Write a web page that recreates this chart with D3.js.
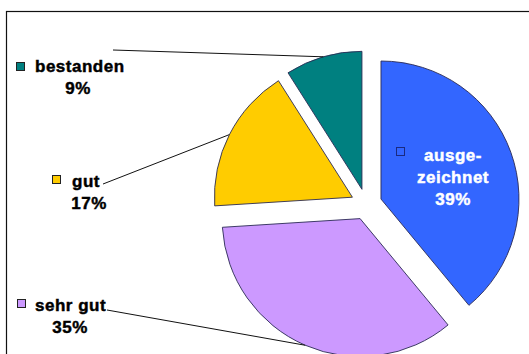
<!DOCTYPE html>
<html>
<head>
<meta charset="utf-8">
<script src="https://cdn.jsdelivr.net/npm/d3@7"></script>
<style>
  html, body { margin: 0; padding: 0; background: #fff; }
  svg { display: block; }
  text { font-family: "Liberation Sans", Arial, sans-serif; font-weight: bold; }
</style>
</head>
<body>
<svg id="chart" width="529" height="354"></svg>
<script>
// Grade distribution, clockwise from 12 o'clock
const categories = ["ausgezeichnet", "sehr gut", "gut", "bestanden"];
const labelLines = [["ausge-", "zeichnet"], ["sehr gut"], ["gut"], ["bestanden"]];
const values = [39, 35, 17, 9];
const colors = ["#3366FF", "#CC99FF", "#FFCC00", "#008080"];

const W = 529, H = 354;
const svg = d3.select("#chart");

// chart frame (runs past the right and bottom edges)
svg.append("rect")
  .attr("x", 6.5).attr("y", 11.5)
  .attr("width", 600).attr("height", 400)
  .attr("fill", "#fff").attr("stroke", "#111").attr("stroke-width", 1.2);

const cx = 366.3, cy = 204.3, radius = 138, explode = 15.6;

const pie = d3.pie().sort(null).value(d => d).startAngle(0).endAngle(2 * Math.PI);
const arcs = pie(values);
const arc = d3.arc().innerRadius(0).outerRadius(radius);

// direction of each slice's bisector (0 = up, clockwise)
const dir = a => {
  const m = (a.startAngle + a.endAngle) / 2;
  return [Math.sin(m), -Math.cos(m)];
};

const g = svg.append("g").attr("transform", `translate(${cx},${cy})`);

g.selectAll("path.slice")
  .data(arcs)
  .join("path")
  .attr("class", "slice")
  .attr("transform", d => { const [dx, dy] = dir(d); return `translate(${dx * explode},${dy * explode})`; })
  .attr("d", arc)
  .attr("fill", (d, i) => colors[i])
  .attr("stroke", "#2b2b55")
  .attr("stroke-width", 0.9);

// label layout: anchor of the text block and optional leader start
const labelLayout = [
  { x: 453, y: 161, inside: true, marker: [396, 147] },
  { x: 70, y: 311, marker: [17, 299], textX: 35, leader: [107, 310] },
  { x: 89, y: 187, marker: [52, 175], textX: 72, leader: [103, 184] },
  { x: 78, y: 72, marker: [16, 62], textX: 35, leader: [113, 50] }
];

const pct = d3.format(".0f");
const fontSize = 17;

// leader lines from labels to the middle of each slice's outer arc
arcs.forEach((a, i) => {
  const L = labelLayout[i];
  if (!L.leader) return;
  const [dx, dy] = dir(a);
  const ex = cx + dx * (explode + radius), ey = cy + dy * (explode + radius);
  svg.append("line")
    .attr("x1", L.leader[0]).attr("y1", L.leader[1])
    .attr("x2", ex).attr("y2", ey)
    .attr("stroke", "#111").attr("stroke-width", 1);
});

const addText = (fill) => svg.append("text")
  .attr("fill", fill)
  .attr("stroke", fill)
  .attr("stroke-width", 0.45)
  .attr("font-size", fontSize)
  .attr("letter-spacing", 0.5);

arcs.forEach((a, i) => {
  const L = labelLayout[i];
  const lines = labelLines[i];
  const fill = L.inside ? "#fff" : "#000";
  // legend key square
  svg.append("rect")
    .attr("x", L.marker[0] + 0.5).attr("y", L.marker[1] + 0.5)
    .attr("width", 8).attr("height", 8)
    .attr("fill", colors[i])
    .attr("stroke", L.inside ? "#1a2a80" : "#222")
    .attr("stroke-width", 1);

  if (L.inside) {
    const t = addText(fill);
    lines.concat([pct(values[i]) + "%"]).forEach((s, k) => {
      t.append("tspan").attr("x", L.x).attr("y", L.y + k * 22).attr("text-anchor", "middle").text(s);
    });
  } else {
    addText(fill).attr("x", L.textX).attr("y", L.y).text(lines[0]);
    addText(fill)
      .attr("x", L.x).attr("y", L.y + 22)
      .attr("text-anchor", "middle")
      .text(pct(values[i]) + "%");
  }
});
</script>
</body>
</html>
